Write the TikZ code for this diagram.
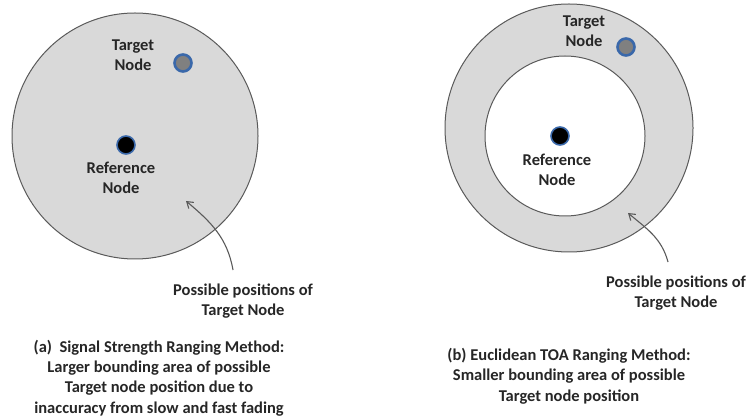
\documentclass[tikz,border=0pt]{standalone}
\usepackage{fontspec}
\setmainfont{Carlito}
\usepackage{tikz}
\usetikzlibrary{arrows.meta, positioning}
\definecolor{areagray}{RGB}{217, 217, 217}
\definecolor{rimgray}{RGB}{90, 90, 90}
\definecolor{ringblue}{RGB}{58, 104, 170}
\definecolor{dotgray}{RGB}{128, 128, 128}
\tikzset{
  lbl/.style={font=\fontsize{16.5}{20.3}\selectfont\bfseries, align=center, inner sep=1pt, text=black!85},
  tgtdot/.style={circle, minimum size=17pt, inner sep=0pt, fill=dotgray, draw=ringblue, line width=2.6pt},
  refdot/.style={circle, minimum size=18pt, inner sep=0pt, fill=black, draw=ringblue, line width=1.6pt},
  pointer/.style={-{Straight Barb[length=6pt, width=8pt]}, rimgray, line width=1.1pt}
}

\begin{document}
\begin{tikzpicture}[x=1pt, y=-1pt]
  \useasboundingbox (0,0) rectangle (746,419);

  % (a) Signal strength area
  \filldraw[fill=areagray, draw=rimgray, line width=1pt] (135,136) circle [radius=123pt];
  \node[tgtdot] (tgtA) at (183,63) {};
  \node[lbl] (tgtAlbl) at (133,55) {Target\\Node};
  \node[refdot] (refA) at (126,145) {};
  \node[lbl] (refAlbl) at (121,178) {Reference\\Node};

  % Pointer (a)
  \node[lbl] (posA) at (243,301) {Possible positions of\\Target Node};
  \coordinate (tailA) at (233,270);
  \coordinate (tipA) at (186,201);
  \draw[pointer] (tailA) to[out=100, in=-40] (tipA);

  % (b) Euclidean TOA ring
  \filldraw[fill=areagray, draw=rimgray, line width=1pt] (569,128) circle [radius=124pt];
  \filldraw[fill=white, draw=rimgray, line width=1pt] (565,136) circle [radius=80pt];
  \node[tgtdot] (tgtB) at (626,47) {};
  \node[lbl] (tgtBlbl) at (584,31) {Target\\Node};
  \node[refdot] (refB) at (560,136) {};
  \node[lbl] (refBlbl) at (557,170) {Reference\\Node};

  % Pointer (b)
  \node[lbl] (posB) at (676,293) {Possible positions of\\Target Node};
  \coordinate (tailB) at (668,262);
  \coordinate (tipB) at (628,213);
  \draw[pointer] (tailB) to[out=105, in=-40] (tipB);

  % Captions
  \node[lbl] (capA) at (159,378) {(a)~~Signal Strength Ranging Method:\\Larger bounding area of possible\\Target node position due to\\inaccuracy from slow and fast fading};
  \node[lbl] (capB) at (569,376) {(b) Euclidean TOA Ranging Method:\\Smaller bounding area of possible\\Target node position};
\end{tikzpicture}
\end{document}
